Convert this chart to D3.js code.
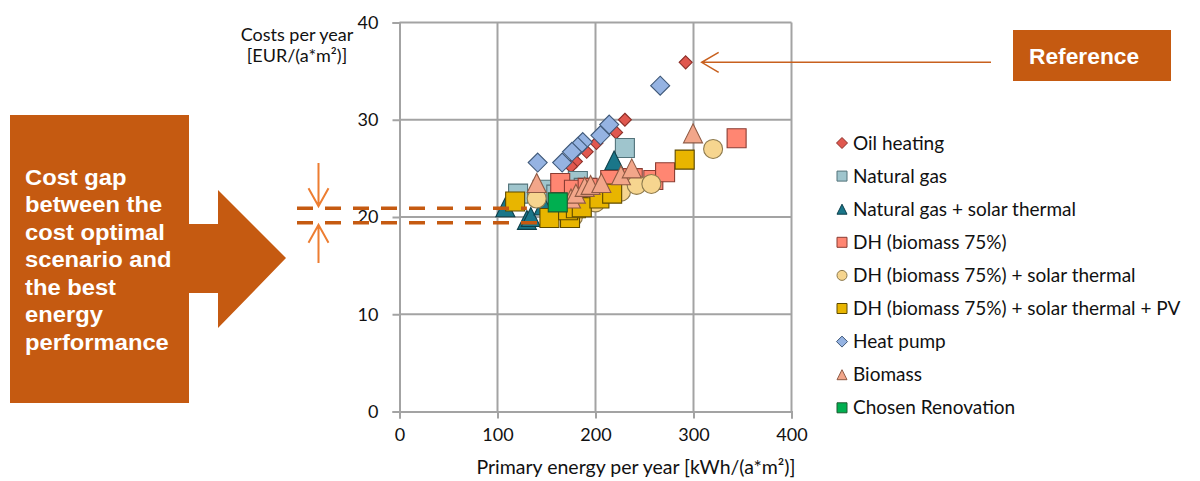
<!DOCTYPE html>
<html>
<head>
<meta charset="utf-8">
<script src="https://cdn.jsdelivr.net/npm/d3@7"></script>
<style>
  body { margin: 0; background: #fff; }
  svg text { font-family: Lato, "Liberation Sans", sans-serif; }
</style>
</head>
<body>
<div id="chart"></div>
<script>
// axis ticks
var xTicks = [0, 100, 200, 300, 400];
var yTicks = [0, 10, 20, 30, 40];

// series values [primary energy, cost]
var oilHeating = [[292, 35.9], [230, 30.0], [221, 28.7], [201, 27.6], [191, 26.7], [180, 25.7], [175, 25.2]];
var naturalGas = [[121, 22.4], [146, 22.8], [160, 22.3], [182, 23.7], [188, 23.0], [230, 27.1]];
var gasSolar = [[108, 21.0], [130, 19.7], [134, 20.0], [147, 21.2], [219, 25.8]];
var dhBiomass = [[164, 23.5], [178, 22.8], [192, 23.0], [215, 23.8], [238, 24.0], [259, 23.8], [271, 24.6], [344, 28.1]];
var dhSolar = [[140, 21.9], [172, 20.2], [177, 20.0], [200, 21.5], [226, 22.6], [242, 23.3], [257, 23.4], [320, 27.0]];
var dhSolarPv = [[118, 21.6], [153, 19.9], [174, 19.9], [172, 20.7], [180, 20.9], [186, 21.0], [204, 21.9], [217, 22.4], [291, 25.9]];
var heatPump = [[266, 33.5], [214, 29.5], [205, 28.4], [187, 27.7], [182, 27.2], [176, 26.7], [166, 25.6], [141, 25.6]];
var biomass = [[140, 23.5], [175, 21.9], [180, 22.4], [189, 23.1], [195, 23.3], [206, 23.5], [226, 24.3], [237, 25.0], [299.5, 28.6]];
var chosenRenovation = [[161.5, 21.5]];

var seriesNames = ["Oil heating", "Natural gas", "Natural gas + solar thermal", "DH (biomass 75%)",
    "DH (biomass 75%) + solar thermal", "DH (biomass 75%) + solar thermal + PV", "Heat pump", "Biomass", "Chosen Renovation"];

// cost gap lines (cost level, end of line in kWh)
var gapLevels = [20.9, 19.4];
var gapEnds = [130, 141];
var referencePoint = oilHeating[0];

var series = [
    { data: oilHeating, shape: "diamond", size: 13, fill: "#E0584F", stroke: "#8C2F28" },
    { data: naturalGas, shape: "square", size: 19, fill: "#9FC5CD", stroke: "#52737A" },
    { data: gasSolar, shape: "triangle", size: 19, fill: "#1A7689", stroke: "#0D3F4A" },
    { data: dhBiomass, shape: "square", size: 19, fill: "#FF8672", stroke: "#8A3D33" },
    { data: dhSolar, shape: "circle", size: 19, fill: "#F6D58F", stroke: "#8D7A4E" },
    { data: dhSolarPv, shape: "square", size: 19, fill: "#E8B500", stroke: "#5E4A00" },
    { data: heatPump, shape: "diamond", size: 19, fill: "#95B3E2", stroke: "#3F5878" },
    { data: biomass, shape: "triangle", size: 19, fill: "#F2A68A", stroke: "#8E5A44" },
    { data: chosenRenovation, shape: "square", size: 19, fill: "#00AF50", stroke: "#1D5A30" }
];

function shapePath(type, s) {
    var h = s / 2;
    if (type == "diamond") return "M0," + (-h) + "L" + h + ",0L0," + h + "L" + (-h) + ",0Z";
    if (type == "square") return "M" + (-h) + "," + (-h) + "H" + h + "V" + h + "H" + (-h) + "Z";
    if (type == "triangle") return "M0," + (-h) + "L" + h + "," + h + "L" + (-h) + "," + h + "Z";
    return "M" + h + ",0A" + h + "," + h + " 0 1,1 " + (-h) + ",0A" + h + "," + h + " 0 1,1 " + h + ",0Z";
}

var W = 1200, H = 481;
var margin = { top: 22.5, right: 408.5, bottom: 69.5, left: 399.5 },
    width = W - margin.left - margin.right,
    height = H - margin.top - margin.bottom;

var svg = d3.select("#chart").append("svg")
    .attr("width", W)
    .attr("height", H);

var orange = "#C55A11";

// ---- big arrow shape with text ----
svg.append("path")
    .attr("d", "M10,115H189V224H218V190L286,258L218,328V293H189V403H10Z")
    .attr("fill", orange);

var boxLines = ["Cost gap", "between the", "cost optimal", "scenario and", "the best", "energy", "performance"];
var boxText = svg.append("g").attr("transform", "translate(25,0) scale(1.08,1)");
boxText.selectAll("text")
    .data(boxLines)
    .enter().append("text")
    .attr("x", 0)
    .attr("y", function(d, i) { return 185 + i * 27.5; })
    .style("font-family", "'Liberation Sans', Arial, sans-serif")
    .style("font-weight", "bold")
    .style("font-size", "22px")
    .attr("fill", "#fff")
    .text(function(d) { return d; });

// ---- plot ----
var g = svg.append("g")
    .attr("transform", "translate(" + margin.left + "," + margin.top + ")");

var x = d3.scaleLinear().domain([0, 400]).range([0, width]);
var y = d3.scaleLinear().domain([0, 40]).range([height, 0]);

var grid = "#A3A3A3";

// gridlines
g.append("g").selectAll("line")
    .data(xTicks.slice(1))
    .enter().append("line")
    .attr("x1", function(d) { return x(d); }).attr("x2", function(d) { return x(d); })
    .attr("y1", 0).attr("y2", height)
    .attr("stroke", grid).attr("stroke-width", 2);
g.append("g").selectAll("line")
    .data(yTicks.slice(1))
    .enter().append("line")
    .attr("y1", function(d) { return y(d); }).attr("y2", function(d) { return y(d); })
    .attr("x1", 0).attr("x2", width)
    .attr("stroke", grid).attr("stroke-width", 2);

// axes
var xAxis = g.append("g")
    .attr("transform", "translate(0," + height + ")")
    .call(d3.axisBottom(x).tickValues(xTicks).tickSize(7).tickPadding(10));
var yAxis = g.append("g")
    .call(d3.axisLeft(y).tickValues(yTicks).tickSize(7).tickPadding(14));
[xAxis, yAxis].forEach(function(a) {
    a.select(".domain").attr("stroke", grid).attr("stroke-width", 2);
    a.selectAll(".tick line").attr("stroke", grid).attr("stroke-width", 2);
    a.selectAll(".tick text")
        .style("font-family", "Lato, sans-serif")
        .style("font-size", "18px")
        .attr("fill", "#111");
});

// cost gap dashed lines
svg.append("g").selectAll("line")
    .data(gapLevels)
    .enter().append("line")
    .attr("x1", 297)
    .attr("x2", function(d, i) { return margin.left + x(gapEnds[i]); })
    .attr("y1", function(d) { return margin.top + y(d); })
    .attr("y2", function(d) { return margin.top + y(d); })
    .attr("stroke", orange)
    .attr("stroke-width", 3.5)
    .attr("stroke-dasharray", "16,12");

// markers, drawn in legend order
series.forEach(function(s) {
    g.append("g").selectAll("path")
        .data(s.data)
        .enter().append("path")
        .attr("d", shapePath(s.shape, s.size))
        .attr("transform", function(d) { return "translate(" + x(d[0]) + "," + y(d[1]) + ")"; })
        .attr("fill", s.fill)
        .attr("stroke", s.stroke)
        .attr("stroke-width", 1.1);
});

// double arrow for the gap
var gx = 318.5, light = "#ED7D31";
var yTop = margin.top + y(gapLevels[0]), yBot = margin.top + y(gapLevels[1]);
svg.append("path")
    .attr("d", "M" + gx + ",163V" + (yTop - 2) + "M" + (gx - 10) + "," + (yTop - 20) + "L" + gx + "," + (yTop - 2) + "L" + (gx + 10) + "," + (yTop - 20) +
        "M" + gx + ",263V" + (yBot + 2) + "M" + (gx - 10) + "," + (yBot + 20) + "L" + gx + "," + (yBot + 2) + "L" + (gx + 10) + "," + (yBot + 20))
    .attr("fill", "none")
    .attr("stroke", light)
    .attr("stroke-width", 2);

// reference arrow + box
var rx = margin.left + x(referencePoint[0]) + 16, ry = margin.top + y(referencePoint[1]);
svg.append("path")
    .attr("d", "M991," + ry + "H" + rx + "M" + (rx + 17) + "," + (ry - 10) + "L" + rx + "," + ry + "L" + (rx + 17) + "," + (ry + 10))
    .attr("fill", "none")
    .attr("stroke", "#C8601E")
    .attr("stroke-width", 1.5);
svg.append("rect")
    .attr("x", 1013).attr("y", 30).attr("width", 158).attr("height", 51)
    .attr("fill", orange);
svg.append("text")
    .attr("transform", "translate(1029,64) scale(1.06,1)")
    .style("font-family", "'Liberation Sans', Arial, sans-serif")
    .style("font-weight", "bold")
    .style("font-size", "21.5px")
    .attr("fill", "#fff")
    .text("Reference");

// axis titles
svg.append("text")
    .attr("x", 636).attr("y", 474)
    .attr("text-anchor", "middle")
    .style("font-size", "19.5px")
    .attr("fill", "#111")
    .text("Primary energy per year [kWh/(a*m²)]");
var yt = svg.append("text")
    .attr("text-anchor", "middle")
    .style("font-size", "18px")
    .attr("fill", "#111");
yt.append("tspan").attr("x", 297).attr("y", 41).text("Costs per year");
yt.append("tspan").attr("x", 297).attr("y", 62).text("[EUR/(a*m²)]");

// legend
var legend = svg.append("g").selectAll("g")
    .data(series)
    .enter().append("g")
    .attr("transform", function(d, i) { return "translate(842," + (143 + i * 33.1) + ")"; });
legend.append("path")
    .attr("d", function(d) { return shapePath(d.shape, d.shape == "diamond" ? 11 : 10); })
    .attr("fill", function(d) { return d.fill; })
    .attr("stroke", function(d) { return d.stroke; })
    .attr("stroke-width", 1);
legend.append("text")
    .attr("x", 11)
    .attr("y", 6.5)
    .style("font-size", "19px")
    .attr("fill", "#111")
    .text(function(d, i) { return seriesNames[i]; });
</script>
</body>
</html>
